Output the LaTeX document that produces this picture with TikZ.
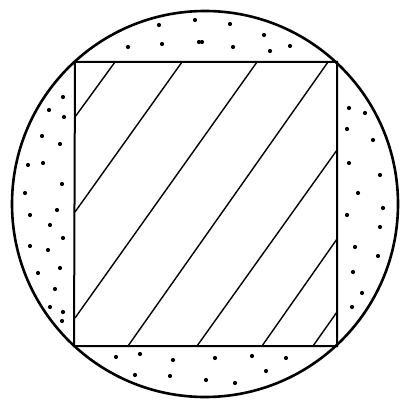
\documentclass[tikz,border=0pt]{standalone}
\begin{document}
\begin{tikzpicture}[x=1pt, y=-1pt,
		rim/.style={line width=2.6pt},
		edge/.style={line width=2pt},
		hatch/.style={line width=1.4pt},
		grain/.style={fill=black}]
			\useasboundingbox (0,0) rectangle (400,401);
			
			\coordinate (o) at (205,204);
			\coordinate (a) at (75,62);
			\coordinate (b) at (337,62);
			\coordinate (c) at (337,346);
			\coordinate (d) at (74,346);
			
			\draw[rim] (o) circle (193);
			
			% hatching
			\draw[hatch] (115,62) -- (75,117);
			\draw[hatch] (182,62) -- (75,212);
			\draw[hatch] (257,62) -- (75,318);
			\draw[hatch] (328,62) -- (128,346);
			\draw[hatch] (337,150) -- (197,346);
			\draw[hatch] (337,239) -- (262,346);
			\draw[hatch] (337,312) -- (313,346);
			
			\draw[edge] (a) -- (b) -- (c) -- (d) -- cycle;
			
			% sand
			\foreach \px/\py in {159/25,128/47,162/44,195/20,199/42,
				230/24,264/35,233/47,270/51,290/46,202/42,
				63/97,49/110,64/117,42/136,60/144,28/165,43/163,62/184,25/193,
				30/215,57/210,50/225,63/238,30/246,48/250,60/268,38/273,55/289,50/307,63/312,62/321,
				349/108,365/113,347/129,373/140,349/163,380/175,358/193,
				347/215,383/208,380/227,355/247,378/256,353/272,362/293,352/307,
				116/357,140/354,173/360,135/375,170/376,
				215/358,252/356,286/358,266/371,206/380,235/383}
				\fill[grain] (\px,\py) circle (2.1);
\end{tikzpicture}
\end{document}
